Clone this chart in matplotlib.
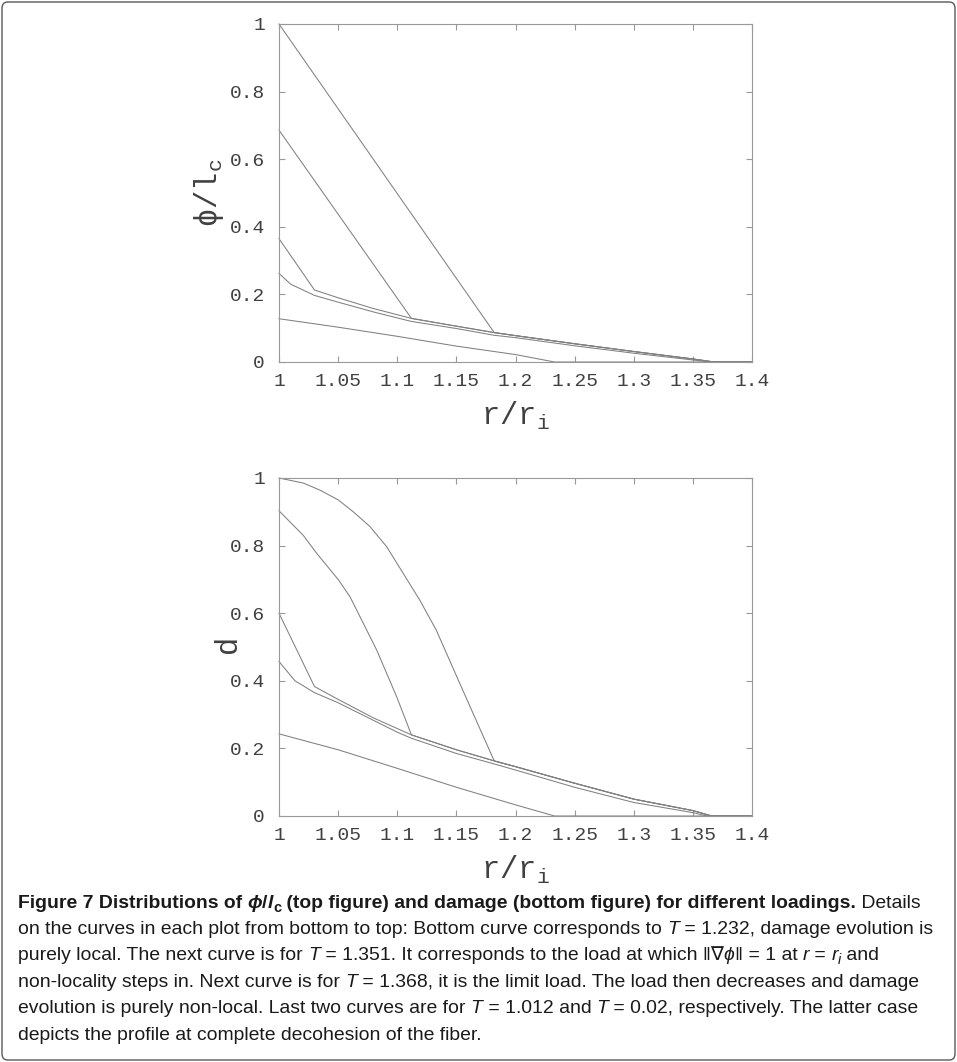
#!/usr/bin/python
# Figure 7: phi/l_c and damage profiles along r/r_i for several loadings,
# two stacked gnuplot-like panels plus the journal caption below.

import numpy as np
import matplotlib
matplotlib.use("Agg")
import matplotlib.pyplot as plt
from matplotlib import font_manager
from matplotlib.patches import FancyBboxPatch
from matplotlib.transforms import IdentityTransform

# ---- data ----
r_ticks = [1.0, 1.05, 1.1, 1.15, 1.2, 1.25, 1.3, 1.35, 1.4]
r_tick_labels = ["1", "1.05", "1.1", "1.15", "1.2", "1.25", "1.3", "1.35", "1.4"]
val_ticks = [0.0, 0.2, 0.4, 0.6, 0.8, 1.0]
val_tick_labels = ["0", "0.2", "0.4", "0.6", "0.8", "1"]

# phi / l_c, top panel
phi_local_r = [1.0, 1.05, 1.1, 1.15, 1.2, 1.233, 1.4]               # T = 1.232
phi_local = [0.128, 0.103, 0.076, 0.047, 0.022, 0.0, 0.0]
phi_onset_r = [1.0, 1.01, 1.03, 1.05, 1.08, 1.112, 1.15, 1.182, 1.2,
               1.25, 1.3, 1.35, 1.365, 1.4]                          # T = 1.351
phi_onset = [0.262, 0.23, 0.197, 0.177, 0.148, 0.12, 0.099, 0.079, 0.072,
             0.048, 0.026, 0.006, 0.0, 0.0]
phi_env_r = [1.03, 1.05, 1.08, 1.112, 1.15, 1.182, 1.2, 1.25, 1.3, 1.35,
             1.368, 1.4]                                             # common tail
phi_env = [0.213, 0.19, 0.158, 0.129, 0.106, 0.087, 0.078, 0.054, 0.031,
           0.009, 0.0, 0.0]
phi_limit_r = [1.0, 1.03]                                            # T = 1.368
phi_limit = [0.365, 0.213]
phi_t1012_r = [1.0, 1.112]                                           # T = 1.012
phi_t1012 = [0.686, 0.129]
phi_t002_r = [1.0, 1.182]                                            # T = 0.02
phi_t002 = [1.0, 0.087]

# damage d, bottom panel
d_local_r = [1.0, 1.05, 1.1, 1.15, 1.2, 1.233, 1.4]
d_local = [0.243, 0.196, 0.141, 0.085, 0.033, 0.0, 0.0]
d_onset_r = [1.0, 1.0135, 1.03, 1.05, 1.1, 1.112, 1.15, 1.182, 1.2, 1.25,
             1.3, 1.35, 1.362, 1.4]
d_onset = [0.457, 0.40, 0.365, 0.335, 0.248, 0.23, 0.185, 0.154, 0.136,
           0.085, 0.04, 0.01, 0.0, 0.0]
d_env_r = [1.03, 1.05, 1.08, 1.112, 1.15, 1.182, 1.2, 1.25, 1.3, 1.35,
           1.366, 1.4]
d_env = [0.383, 0.345, 0.29, 0.24, 0.196, 0.163, 0.146, 0.097, 0.05, 0.016,
         0.0, 0.0]
d_limit_r = [1.0, 1.03]
d_limit = [0.6, 0.383]
d_t1012_r = [1.0, 1.0206, 1.0319, 1.05, 1.06, 1.0826, 1.0995, 1.112]
d_t1012 = [0.903, 0.83, 0.777, 0.70, 0.649, 0.491, 0.353, 0.24]
d_t002_r = [1.0, 1.0206, 1.0347, 1.0502, 1.0628, 1.077, 1.091, 1.105,
            1.119, 1.133, 1.15, 1.167, 1.182]
d_t002 = [1.0, 0.985, 0.964, 0.935, 0.9, 0.856, 0.797, 0.718, 0.639, 0.55,
          0.415, 0.281, 0.163]

W, H = 957, 1062
LINE_COL = "0.5"
AX_COL = "0.6"
TXT_COL = "0.25"
MONO = "Liberation Mono"

plt.rcParams["mathtext.fontset"] = "custom"
plt.rcParams["mathtext.rm"] = MONO
plt.rcParams["mathtext.it"] = MONO
plt.rcParams["mathtext.tt"] = MONO


def with_tail(head_r, head_v, tail_r, tail_v):
    """Join a steep head branch to the shared tail past its kink."""
    r = list(head_r) + [x for x in tail_r if x > head_r[-1]]
    v = list(head_v) + [y for x, y in zip(tail_r, tail_v) if x > head_r[-1]]
    return r, v


def setup_axes(ax, ylabel, ylabel_x):
    ax.set_xlim(1.0, 1.4)
    ax.set_ylim(0.0, 1.0)
    ax.set_xticks(r_ticks)
    ax.set_xticklabels(r_tick_labels)
    ax.set_yticks(val_ticks)
    ax.set_yticklabels(val_tick_labels)
    for s in ax.spines.values():
        s.set_color(AX_COL)
        s.set_linewidth(0.8)
    ax.tick_params(direction="in", length=4, width=0.8, color=AX_COL,
                   top=True, right=True, labelsize=14, labelcolor=TXT_COL)
    ax.tick_params(axis="x", pad=8)
    ax.tick_params(axis="y", pad=10)
    for lab in ax.get_xticklabels() + ax.get_yticklabels():
        lab.set_family(MONO)
    ax.set_xlabel(r"$\mathrm{r/r_i}$", fontsize=22, color=TXT_COL, labelpad=7)
    ax.set_ylabel(ylabel, fontsize=22, color=TXT_COL)
    # gnuplot puts the y label at a fixed spot, not clear of the tick labels
    ax.yaxis.set_label_coords((ylabel_x - 279) / 473, 0.5)


fig = plt.figure(figsize=(W / 100, H / 100), dpi=100)

# panel rectangles in pixels: left 279, right 752, tops 24 / 478, height 338
ax_top = fig.add_axes([279 / W, 1 - 362 / H, 473 / W, 338 / H])
ax_bot = fig.add_axes([279 / W, 1 - 816 / H, 473 / W, 338 / H])

top_curves = [
    (phi_local_r, phi_local),
    (phi_onset_r, phi_onset),
    with_tail(phi_limit_r, phi_limit, phi_env_r, phi_env),
    with_tail(phi_t1012_r, phi_t1012, phi_env_r, phi_env),
    with_tail(phi_t002_r, phi_t002, phi_env_r, phi_env),
]
bot_curves = [
    (d_local_r, d_local),
    (d_onset_r, d_onset),
    with_tail(d_limit_r, d_limit, d_env_r, d_env),
    with_tail(d_t1012_r, d_t1012, d_env_r, d_env),
    with_tail(d_t002_r, d_t002, d_env_r, d_env),
]
for r, v in top_curves:
    ax_top.plot(r, v, color=LINE_COL, lw=0.75, clip_on=False)
for r, v in bot_curves:
    ax_bot.plot(r, v, color=LINE_COL, lw=0.75, clip_on=False)

setup_axes(ax_top, r"$\mathrm{\phi/l_c}$", 226)
setup_axes(ax_bot, r"$\mathrm{d}$", 244)

# outer rounded frame
fig.patches.append(FancyBboxPatch((2 / W, 2 / H), 1 - 4 / W, 1 - 4 / H,
                                  boxstyle="round,pad=0,rounding_size=0.006",
                                  transform=fig.transFigure, fill=False,
                                  ec="0.35", lw=1.0))

# ---- caption ----
names = {f.name for f in font_manager.fontManager.ttflist}
cap_font = "Liberation Sans Narrow" if "Liberation Sans Narrow" in names else "Liberation Sans"
cap_family = [cap_font, "DejaVu Sans"]

# runs: (text, weight, style, subscript)
B, N = "bold", "normal"
caption = [
    [("Figure 7 Distributions of ", B, N, False), ("\u03d5", B, "italic", False),
     ("/", B, N, False), ("l", B, "italic", False), ("c", B, N, True),
     (" (top figure) and damage (bottom figure) for different loadings.", B, N, False),
     (" Details", N, N, False)],
    [("on the curves in each plot from bottom to top: Bottom curve corresponds to ", N, N, False),
     ("T", N, "italic", False), (" = 1.232, damage evolution is", N, N, False)],
    [("purely local. The next curve is for ", N, N, False), ("T", N, "italic", False),
     (" = 1.351. It corresponds to the load at which \u2016\u2207", N, N, False),
     ("\u03d5", N, "italic", False), ("\u2016 = 1 at ", N, N, False),
     ("r", N, "italic", False), (" = ", N, N, False), ("r", N, "italic", False),
     ("i", N, "italic", True), (" and", N, N, False)],
    [("non-locality steps in. Next curve is for ", N, N, False), ("T", N, "italic", False),
     (" = 1.368, it is the limit load. The load then decreases and damage", N, N, False)],
    [("evolution is purely non-local. Last two curves are for ", N, N, False),
     ("T", N, "italic", False), (" = 1.012 and ", N, N, False), ("T", N, "italic", False),
     (" = 0.02, respectively. The latter case", N, N, False)],
    [("depicts the profile at complete decohesion of the fiber.", N, N, False)],
]
cap_left = 18
cap_baselines = [908, 934, 960, 987, 1013, 1040]

renderer = fig.canvas.get_renderer()


def run_width(txt, size, weight, style):
    # measure between bars so leading/trailing blanks are counted
    t1 = fig.text(0, 0, "|" + txt + "|", fontsize=size, fontweight=weight,
                  fontstyle=style, family=cap_family, transform=IdentityTransform())
    t2 = fig.text(0, 0, "||", fontsize=size, fontweight=weight,
                  fontstyle=style, family=cap_family, transform=IdentityTransform())
    w = t1.get_window_extent(renderer).width - t2.get_window_extent(renderer).width
    t1.remove()
    t2.remove()
    return w


def line_width(runs, size):
    return sum(run_width(t, size * (0.75 if sub else 1), w, s) for t, w, s, sub in runs)


# size the caption so that the second line spans about the reference width
base_size = 13.0
cap_size = base_size * 910 / line_width(caption[1], base_size)

for runs, base in zip(caption, cap_baselines):
    x = cap_left
    for txt, weight, style, sub in runs:
        size = cap_size * (0.75 if sub else 1)
        y = H - base - (4 if sub else 0)
        fig.text(x, y, txt, fontsize=size, fontweight=weight, fontstyle=style,
                 family=cap_family, color="0.1", va="baseline",
                 transform=IdentityTransform())
        x += run_width(txt, size, weight, style)

fig.savefig("out.png", dpi=100)
